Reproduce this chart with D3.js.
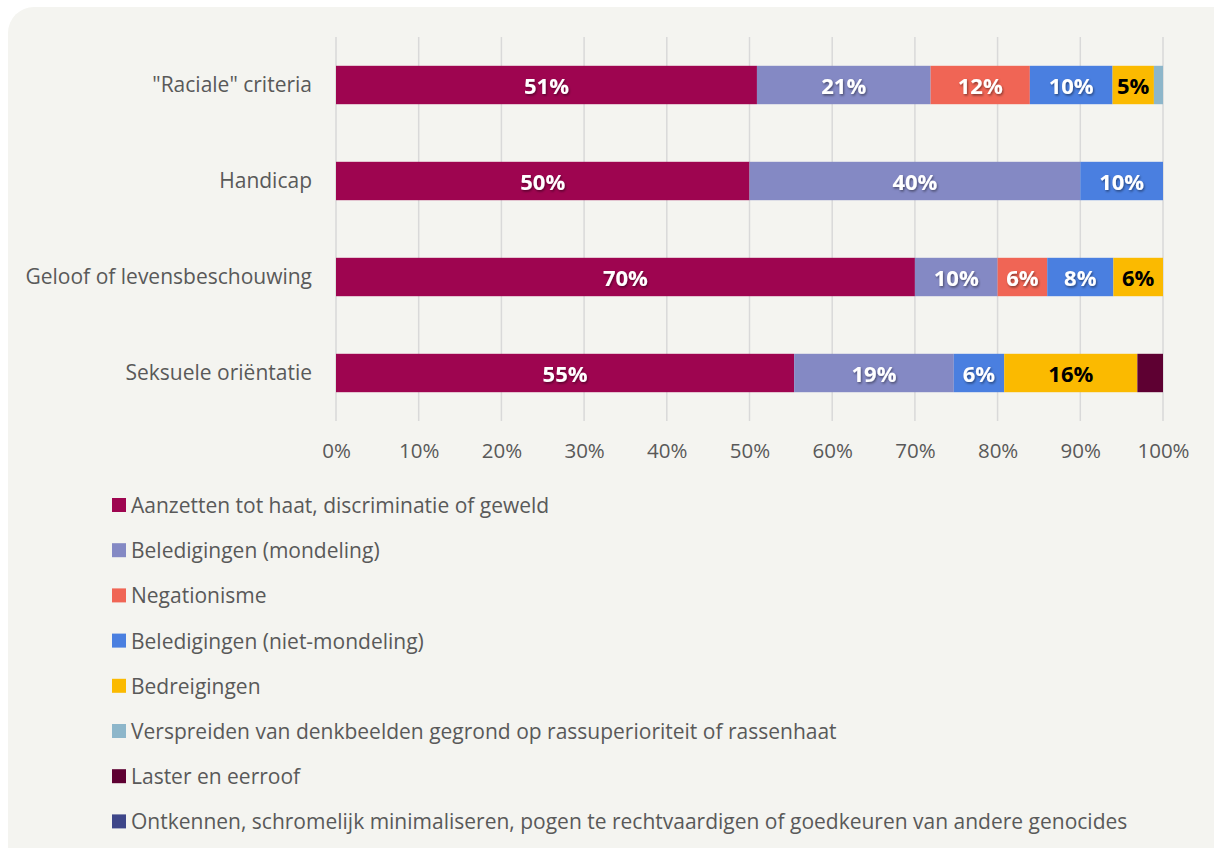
<!DOCTYPE html>
<html><head><meta charset="utf-8">
<script src="https://cdn.jsdelivr.net/npm/d3@7"></script>
<style>
html,body{margin:0;padding:0;background:#fff;}
svg{display:block;}
</style></head>
<body>
<svg id="chart" width="1214" height="848"></svg>
<script>
const categories = ['"Raciale" criteria', 'Handicap', 'Geloof of levensbeschouwing', 'Seksuele oriëntatie'];
const seriesNames = [
  'Aanzetten tot haat, discriminatie of geweld',
  'Beledigingen (mondeling)',
  'Negationisme',
  'Beledigingen (niet-mondeling)',
  'Bedreigingen',
  'Verspreiden van denkbeelden gegrond op rassuperioriteit of rassenhaat',
  'Laster en eerroof',
  'Ontkennen, schromelijk minimaliseren, pogen te rechtvaardigen of goedkeuren van andere genocides'
];
const seriesColors = ['#9E0550', '#8489C4', '#F06555', '#4A7FE0', '#FBBA00', '#8DB6CA', '#5E0032', '#3E4689'];
// values per series, in category order (percent)
const aanzetten   = [50.9, 50, 70, 55.4];
const belMond     = [21, 40, 10, 19.3];
const negation    = [12, 0, 6, 0];
const belNietMond = [10, 10, 8, 6.1];
const bedreiging  = [5, 0, 6, 16.1];
const verspreiden = [1.1, 0, 0, 0];
const laster      = [0, 0, 0, 3.1];
const ontkennen   = [0, 0, 0, 0];
const seriesValues = [aanzetten, belMond, negation, belNietMond, bedreiging, verspreiden, laster, ontkennen];
const tickValues = [0,10,20,30,40,50,60,70,80,90,100];
const tickLabels = ['0%','10%','20%','30%','40%','50%','60%','70%','80%','90%','100%'];

const svg = d3.select('#chart');
const font = 'Open Sans, Lato, sans-serif';

const defs = svg.append('defs');
const f = defs.append('filter').attr('id','sh').attr('x','-20%').attr('y','-20%').attr('width','140%').attr('height','160%');
f.append('feDropShadow').attr('dx',1).attr('dy',1.5).attr('stdDeviation',1).attr('flood-color','#000').attr('flood-opacity',0.45);

svg.append('rect').attr('x',8).attr('y',7).attr('width',1230).attr('height',900).attr('rx',26).attr('fill','#F4F4F0');

const x = d3.scaleLinear().domain([0,100]).range([336,1163]);
const y = d3.scaleBand().domain(categories).range([37,421]).paddingInner(0.6).paddingOuter(0.3);

// gridlines
svg.append('g').selectAll('line').data(tickValues).join('line')
  .attr('x1',d=>x(d)).attr('x2',d=>x(d)).attr('y1',37).attr('y2',421)
  .attr('stroke','#D9D9D9').attr('stroke-width',1.5);

// x axis labels
const xAxis = d3.axisBottom(x).tickValues(tickValues).tickFormat((d,i)=>tickLabels[i]).tickSize(0).tickPadding(22);
const gx = svg.append('g').attr('transform','translate(0,421)').call(xAxis);
gx.select('.domain').remove();
gx.selectAll('text').attr('font-family',font).attr('font-size',20.5).attr('fill','#595959');

// y axis labels
const yAxis = d3.axisLeft(y).tickSize(0).tickPadding(24);
const gy = svg.append('g').attr('transform','translate(336,0)').call(yAxis);
gy.select('.domain').remove();
gy.selectAll('text').attr('font-family',font).attr('font-size',21).attr('fill','#595959');

// stacked bars
const rows = categories.map((c,ci)=>{ const o={cat:c}; seriesNames.forEach((s,si)=>o[s]=seriesValues[si][ci]); return o; });
const stack = d3.stack().keys(seriesNames)(rows);
const layers = svg.append('g').selectAll('g').data(stack).join('g').attr('fill',(d,i)=>seriesColors[i]);
layers.selectAll('rect').data(d=>d).join('rect')
  .attr('x',d=>x(d[0])).attr('width',d=>x(d[1])-x(d[0]))
  .attr('y',d=>y(d.data.cat)).attr('height',y.bandwidth());

// labels
stack.forEach((layer,si)=>{
  layer.forEach(d=>{
    const v = d[1]-d[0];
    if (v < 4) return;
    const dark = si===4;
    svg.append('text')
      .attr('x',(x(d[0])+x(d[1]))/2).attr('y',y(d.data.cat)+y.bandwidth()/2)
      .attr('text-anchor','middle').attr('dominant-baseline','central')
      .attr('font-family',font).attr('font-weight',700).attr('font-size',22)
      .attr('fill',dark?'#000':'#fff')
      .attr('filter',dark?null:'url(#sh)')
      .text(Math.round(v)+'%');
  });
});

// legend
const lg = svg.append('g').selectAll('g').data(seriesNames).join('g')
  .attr('transform',(d,i)=>`translate(112,${505+i*45.2})`);
lg.append('rect').attr('x',0).attr('y',-7).attr('width',14).attr('height',14).attr('fill',(d,i)=>seriesColors[i]);
lg.append('text').attr('x',19).attr('y',0).attr('dominant-baseline','central')
  .attr('font-family',font).attr('font-size',21).attr('fill','#595959').text(d=>d);
</script>
</body></html>
